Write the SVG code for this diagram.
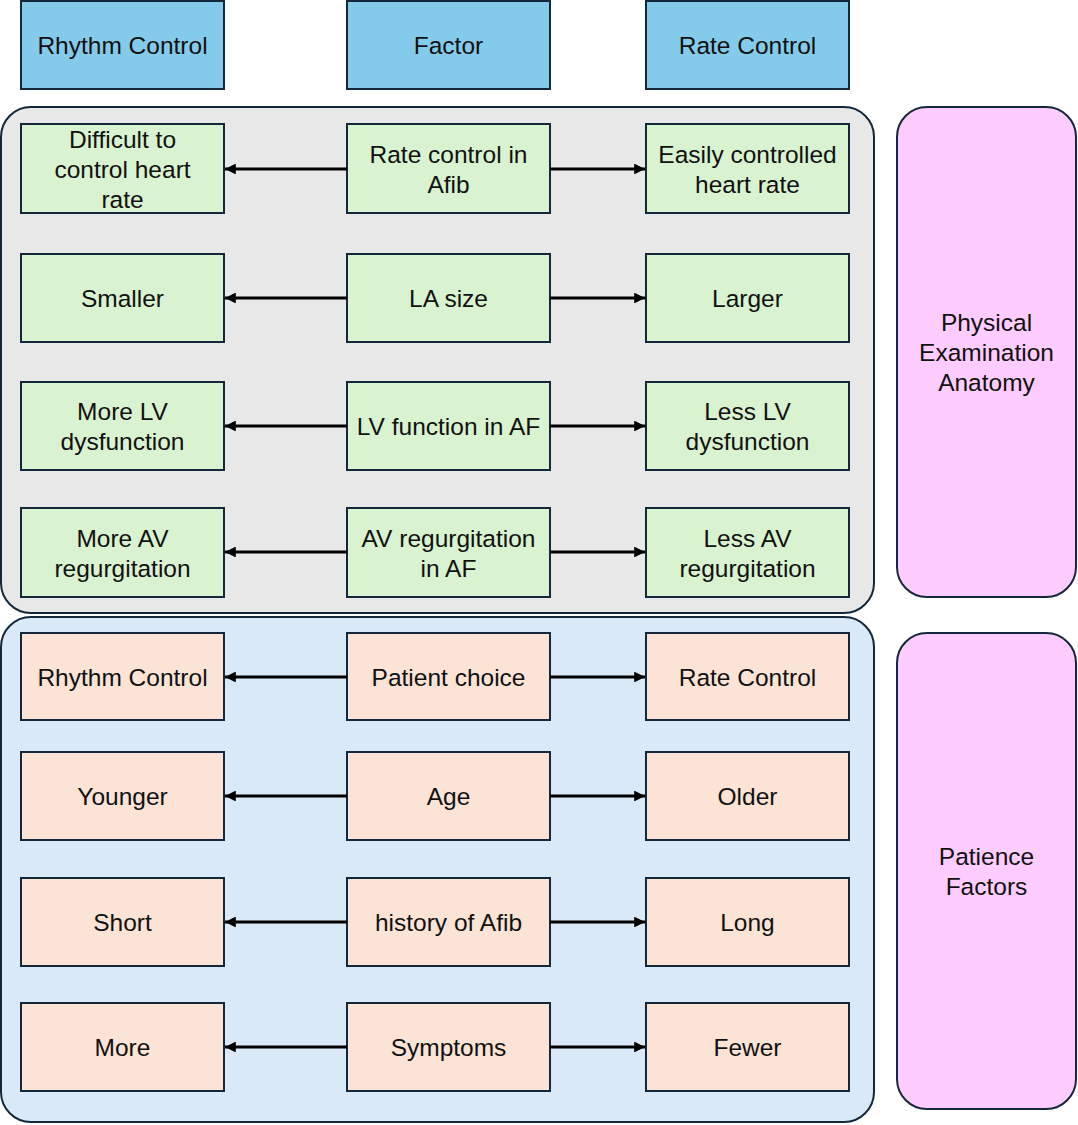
<svg xmlns="http://www.w3.org/2000/svg" width="1078" height="1125" viewBox="0 0 1078 1125">
<defs>
<style>
text{font-family:"Liberation Sans",Arial,sans-serif;font-size:24.5px;fill:#111;text-anchor:middle;dominant-baseline:central}
.hd{fill:#84cbeb;stroke:#14283c;stroke-width:2}
.gr{fill:#d9f2d0;stroke:#14283c;stroke-width:2}
.or{fill:#fbe3d6;stroke:#14283c;stroke-width:2}
.pk{fill:#ffccff;stroke:#14283c;stroke-width:2}
.cg{fill:#e8e8e8;stroke:#14283c;stroke-width:2}
.cb{fill:#dae9f7;stroke:#14283c;stroke-width:2}
.ar{stroke:#000;stroke-width:3;fill:none;marker-end:url(#ah)}
</style>
<marker id="ah" viewBox="0 0 10 10" refX="10" refY="5" markerWidth="3.6" markerHeight="3.6" orient="auto" markerUnits="strokeWidth">
<path d="M0,0 L10,5 L0,10 Z" fill="#000"/>
</marker>
</defs>
<g id="containers">
<rect id="physical-group" class="cg" x="1" y="107" width="873" height="506" rx="30"/>
<rect id="patient-group" class="cb" x="1" y="617" width="873" height="505" rx="30"/>
</g>
<g id="header-rhythm"><rect class="hd" x="21" y="1" width="203" height="88"/><text x="122.5" y="45">Rhythm Control</text></g>
<g id="header-factor"><rect class="hd" x="347" y="1" width="203" height="88"/><text x="448.5" y="45">Factor</text></g>
<g id="header-rate"><rect class="hd" x="646" y="1" width="203" height="88"/><text x="747.5" y="45">Rate Control</text></g>
<g id="side-physical"><rect class="pk" x="897" y="107" width="179" height="490" rx="30"/><text x="986.5" y="322">Physical</text><text x="986.5" y="352">Examination</text><text x="986.5" y="382">Anatomy</text></g>
<g id="side-patient"><rect class="pk" x="897" y="633" width="179" height="476" rx="30"/><text x="986.5" y="856">Patience</text><text x="986.5" y="886">Factors</text></g>

<g id="r1-left"><rect class="gr" x="21" y="124" width="203" height="89"/><text x="122.5" y="139">Difficult to</text><text x="122.5" y="169">control heart</text><text x="122.5" y="199">rate</text></g>
<g id="r1-mid"><rect class="gr" x="347" y="124" width="203" height="89"/><text x="448.5" y="154">Rate control in</text><text x="448.5" y="184">Afib</text></g>
<g id="r1-right"><rect class="gr" x="646" y="124" width="203" height="89"/><text x="747.5" y="154">Easily controlled</text><text x="747.5" y="184">heart rate</text></g>

<g id="r2-left"><rect class="gr" x="21" y="254" width="203" height="88"/><text x="122.5" y="298">Smaller</text></g>
<g id="r2-mid"><rect class="gr" x="347" y="254" width="203" height="88"/><text x="448.5" y="298">LA size</text></g>
<g id="r2-right"><rect class="gr" x="646" y="254" width="203" height="88"/><text x="747.5" y="298">Larger</text></g>

<g id="r3-left"><rect class="gr" x="21" y="382" width="203" height="88"/><text x="122.5" y="411">More LV</text><text x="122.5" y="441">dysfunction</text></g>
<g id="r3-mid"><rect class="gr" x="347" y="382" width="203" height="88"/><text x="448.5" y="426">LV function in AF</text></g>
<g id="r3-right"><rect class="gr" x="646" y="382" width="203" height="88"/><text x="747.5" y="411">Less LV</text><text x="747.5" y="441">dysfunction</text></g>

<g id="r4-left"><rect class="gr" x="21" y="508" width="203" height="89"/><text x="122.5" y="538">More AV</text><text x="122.5" y="568">regurgitation</text></g>
<g id="r4-mid"><rect class="gr" x="347" y="508" width="203" height="89"/><text x="448.5" y="538">AV regurgitation</text><text x="448.5" y="568">in AF</text></g>
<g id="r4-right"><rect class="gr" x="646" y="508" width="203" height="89"/><text x="747.5" y="538">Less AV</text><text x="747.5" y="568">regurgitation</text></g>

<g id="r5-left"><rect class="or" x="21" y="633" width="203" height="87"/><text x="122.5" y="677">Rhythm Control</text></g>
<g id="r5-mid"><rect class="or" x="347" y="633" width="203" height="87"/><text x="448.5" y="677">Patient choice</text></g>
<g id="r5-right"><rect class="or" x="646" y="633" width="203" height="87"/><text x="747.5" y="677">Rate Control</text></g>

<g id="r6-left"><rect class="or" x="21" y="752" width="203" height="88"/><text x="122.5" y="796">Younger</text></g>
<g id="r6-mid"><rect class="or" x="347" y="752" width="203" height="88"/><text x="448.5" y="796">Age</text></g>
<g id="r6-right"><rect class="or" x="646" y="752" width="203" height="88"/><text x="747.5" y="796">Older</text></g>

<g id="r7-left"><rect class="or" x="21" y="878" width="203" height="88"/><text x="122.5" y="922">Short</text></g>
<g id="r7-mid"><rect class="or" x="347" y="878" width="203" height="88"/><text x="448.5" y="922">history of Afib</text></g>
<g id="r7-right"><rect class="or" x="646" y="878" width="203" height="88"/><text x="747.5" y="922">Long</text></g>

<g id="r8-left"><rect class="or" x="21" y="1003" width="203" height="88"/><text x="122.5" y="1047">More</text></g>
<g id="r8-mid"><rect class="or" x="347" y="1003" width="203" height="88"/><text x="448.5" y="1047">Symptoms</text></g>
<g id="r8-right"><rect class="or" x="646" y="1003" width="203" height="88"/><text x="747.5" y="1047">Fewer</text></g>

<g id="connectors">
<line class="ar" x1="347" y1="169" x2="225" y2="169"/><line class="ar" x1="550" y1="169" x2="645" y2="169"/>
<line class="ar" x1="347" y1="298" x2="225" y2="298"/><line class="ar" x1="550" y1="298" x2="645" y2="298"/>
<line class="ar" x1="347" y1="426" x2="225" y2="426"/><line class="ar" x1="550" y1="426" x2="645" y2="426"/>
<line class="ar" x1="347" y1="552" x2="225" y2="552"/><line class="ar" x1="550" y1="552" x2="645" y2="552"/>
<line class="ar" x1="347" y1="677" x2="225" y2="677"/><line class="ar" x1="550" y1="677" x2="645" y2="677"/>
<line class="ar" x1="347" y1="796" x2="225" y2="796"/><line class="ar" x1="550" y1="796" x2="645" y2="796"/>
<line class="ar" x1="347" y1="922" x2="225" y2="922"/><line class="ar" x1="550" y1="922" x2="645" y2="922"/>
<line class="ar" x1="347" y1="1047" x2="225" y2="1047"/><line class="ar" x1="550" y1="1047" x2="645" y2="1047"/>
</g>
</svg>
